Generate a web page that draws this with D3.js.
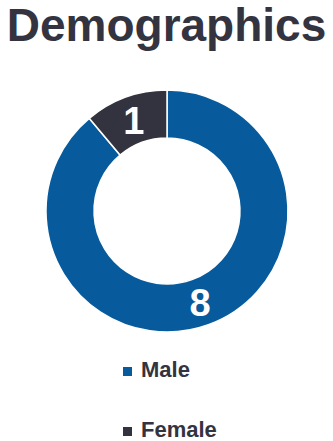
<!DOCTYPE html>
<html>
<head>
<meta charset="utf-8">
<script src="https://cdn.jsdelivr.net/npm/d3@7"></script>
<style>
  body { margin: 0; background: #fff; }
  svg { display: block; font-family: "Liberation Sans", Arial, sans-serif; }
</style>
</head>
<body>
<svg id="chart" width="333" height="441"></svg>
<script>
// data
const categories = ["Male", "Female"];
const values = [8, 1];
const colors = ["#075b9c", "#32333f"];

const width = 333, height = 441;
const cx = 167, cy = 211;
const outerR = 121, innerR = 73;

const svg = d3.select("#chart");

// title
svg.append("text")
  .attr("x", width / 2)
  .attr("y", 41)
  .attr("text-anchor", "middle")
  .style("font-size", "46px")
  .style("font-weight", "bold")
  .style("fill", "#33343f")
  .text("Demographics");

const color = d3.scaleOrdinal().domain(categories).range(colors);

const pie = d3.pie().sort(null).value(d => d.value);
const data = categories.map((c, i) => ({ name: c, value: values[i] }));
const arcs = pie(data);

const arc = d3.arc().innerRadius(innerR).outerRadius(outerR);

const g = svg.append("g").attr("transform", "translate(" + cx + "," + cy + ")");

g.selectAll("path.slice")
  .data(arcs)
  .enter().append("path")
  .attr("class", "slice")
  .attr("d", arc)
  .style("fill", d => color(d.data.name))
  .style("stroke", "#fff")
  .style("stroke-width", 1.5);

// value labels at centroids
g.selectAll("text.val")
  .data(arcs)
  .enter().append("text")
  .attr("class", "val")
  .attr("x", d => arc.centroid(d)[0])
  .attr("y", d => arc.centroid(d)[1])
  .attr("dy", "0.36em")
  .attr("text-anchor", "middle")
  .style("font-size", "38px")
  .style("font-weight", "bold")
  .style("fill", "#fff")
  .text(d => d.data.value);

// legend
const legend = svg.append("g").attr("transform", "translate(123,0)");
const legY = d3.scalePoint().domain(categories).range([377, 437]);

const item = legend.selectAll("g.item")
  .data(categories)
  .enter().append("g")
  .attr("class", "item")
  .attr("transform", d => "translate(0," + legY(d) + ")");

item.append("rect")
  .attr("x", 0)
  .attr("y", -10)
  .attr("width", 9)
  .attr("height", 9)
  .style("fill", d => color(d));

item.append("text")
  .attr("x", 18)
  .attr("y", 0)
  .style("font-size", "22px")
  .style("font-weight", "bold")
  .style("fill", "#33343f")
  .text(d => d);
</script>
</body>
</html>
